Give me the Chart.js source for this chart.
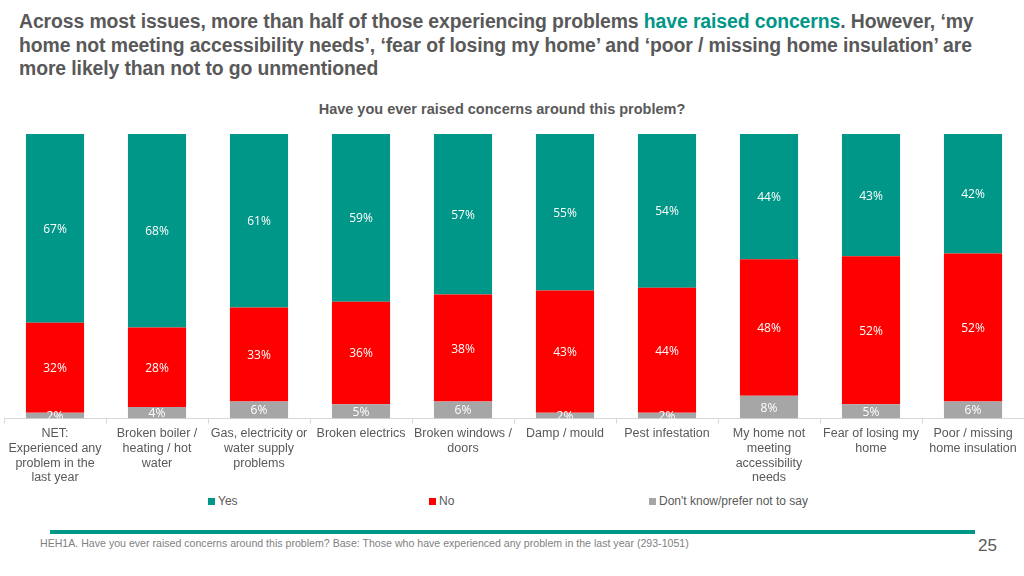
<!DOCTYPE html>
<html>
<head>
  <meta charset="utf-8" />
  <title>Have you ever raised concerns around this problem?</title>
  <style>
    body { margin: 0; width: 1024px; height: 576px; background: #fff; position: relative; overflow: hidden; font-family: "Liberation Sans", Arial, sans-serif; color: #595959; }
    #headline { position: absolute; left: 19px; top: 10px; width: 1000px; font-size: 19.4px; font-weight: bold; line-height: 23.5px; white-space: nowrap; letter-spacing: -0.1px; }
    #headline .hl { color: #009688; }
    #subtitle { position: absolute; left: 0; top: 101px; width: 1004px; text-align: center; font-size: 14.5px; font-weight: bold; }
    #wrap { position: absolute; left: 0; top: 126px; width: 1024px; height: 362px; }
    #legend { position: absolute; top: 494px; left: 0; width: 1024px; height: 16px; font-size: 12px; }
    #legend span { position: absolute; top: 0; white-space: nowrap; }
    #legend i { display: inline-block; width: 7px; height: 7px; margin-right: 3px; vertical-align: 0px; }
    #rule { position: absolute; left: 50px; top: 530px; width: 925px; height: 4px; background: #009688; }
    #note { position: absolute; left: 40px; top: 537px; font-size: 10.6px; color: #7f7f7f; }
    #page { position: absolute; left: 978px; top: 536px; font-size: 17px; color: #595959; }
  </style>
</head>
<body>
  <div id="headline">Across most issues, more than half of those experiencing problems <span class="hl">have raised concerns</span>. However, ‘my<br>home not meeting accessibility needs’, ‘fear of losing my home’ and ‘poor / missing home insulation’ are<br>more likely than not to go unmentioned</div>
  <div id="subtitle">Have you ever raised concerns around this problem?</div>
  <div id="wrap"><canvas id="stage"></canvas></div>
  <div id="legend">
    <span style="left:208px"><i style="background:#009688"></i>Yes</span>
    <span style="left:429px"><i style="background:#ff0000"></i>No</span>
    <span style="left:649px"><i style="background:#a6a6a6"></i>Don't know/prefer not to say</span>
  </div>
  <div id="rule"></div>
  <div id="note">HEH1A. Have you ever raised concerns around this problem? Base: Those who have experienced any problem in the last year (293-1051)</div>
  <div id="page">25</div>

  <script src="https://cdn.jsdelivr.net/npm/chart.js@4.4.0/dist/chart.umd.min.js"></script>
  <script>
    // 各問題カテゴリ
    const categories = [
      ['NET:', 'Experienced any', 'problem in the', 'last year'],
      ['Broken boiler /', 'heating / hot', 'water'],
      ['Gas, electricity or', 'water supply', 'problems'],
      ['Broken electrics'],
      ['Broken windows /', 'doors'],
      ['Damp / mould'],
      ['Pest infestation'],
      ['My home not', 'meeting', 'accessibility', 'needs'],
      ['Fear of losing my', 'home'],
      ['Poor / missing', 'home insulation']
    ];
    const yesValues = [67, 68, 61, 59, 57, 55, 54, 44, 43, 42];
    const noValues = [32, 28, 33, 36, 38, 43, 44, 48, 52, 52];
    const dontKnowValues = [2, 4, 6, 5, 6, 2, 2, 8, 5, 6];

    // 100%積み上げにするため合計で割る
    const totals = yesValues.map((v, i) => v + noValues[i] + dontKnowValues[i]);
    const share = arr => arr.map((v, i) => v / totals[i] * 100);

    // 棒の中央に値を書くプラグイン
    const segmentLabels = {
      id: 'segmentLabels',
      afterDatasetsDraw(chart) {
        const ctx = chart.ctx;
        const area = chart.chartArea;
        ctx.save();
        ctx.beginPath();
        ctx.rect(area.left, area.top, area.right - area.left, area.bottom - area.top);
        ctx.clip();
        ctx.fillStyle = '#ffffff';
        ctx.font = '12px "Open Sans", sans-serif';
        ctx.textAlign = 'center';
        ctx.textBaseline = 'middle';
        chart.data.datasets.forEach((ds, di) => {
          chart.getDatasetMeta(di).data.forEach((bar, i) => {
            const mid = (bar.y + bar.base) / 2;
            ctx.fillText(ds.raw[i] + '%', bar.x, mid + 1);
          });
        });
        ctx.restore();
      }
    };

    new Chart(document.getElementById('stage'), {
      type: 'bar',
      data: {
        labels: categories,
        datasets: [{
          label: "Don't know/prefer not to say",
          data: share(dontKnowValues),
          raw: dontKnowValues,
          backgroundColor: '#a6a6a6'
        }, {
          label: 'No',
          data: share(noValues),
          raw: noValues,
          backgroundColor: '#ff0000'
        }, {
          label: 'Yes',
          data: share(yesValues),
          raw: yesValues,
          backgroundColor: '#009688'
        }]
      },
      options: {
        responsive: true,
        maintainAspectRatio: false,
        animation: false,
        layout: { padding: { top: 8, left: 4, right: 0, bottom: 0 } },
        datasets: { bar: { categoryPercentage: 1, barPercentage: 0.57 } },
        plugins: { legend: { display: false }, tooltip: { enabled: false } },
        scales: {
          x: {
            stacked: true,
            border: { color: '#d9d9d9' },
            grid: { drawOnChartArea: false, color: '#d9d9d9', tickLength: 5 },
            ticks: {
              color: '#595959',
              font: { family: '"Liberation Sans", Arial, sans-serif', size: 12.5, lineHeight: 1.17 },
              padding: 3,
              maxRotation: 0,
              autoSkip: false
            }
          },
          y: { stacked: true, display: false, min: 0, max: 100 }
        }
      },
      plugins: [segmentLabels]
    });
  </script>
</body>
</html>
